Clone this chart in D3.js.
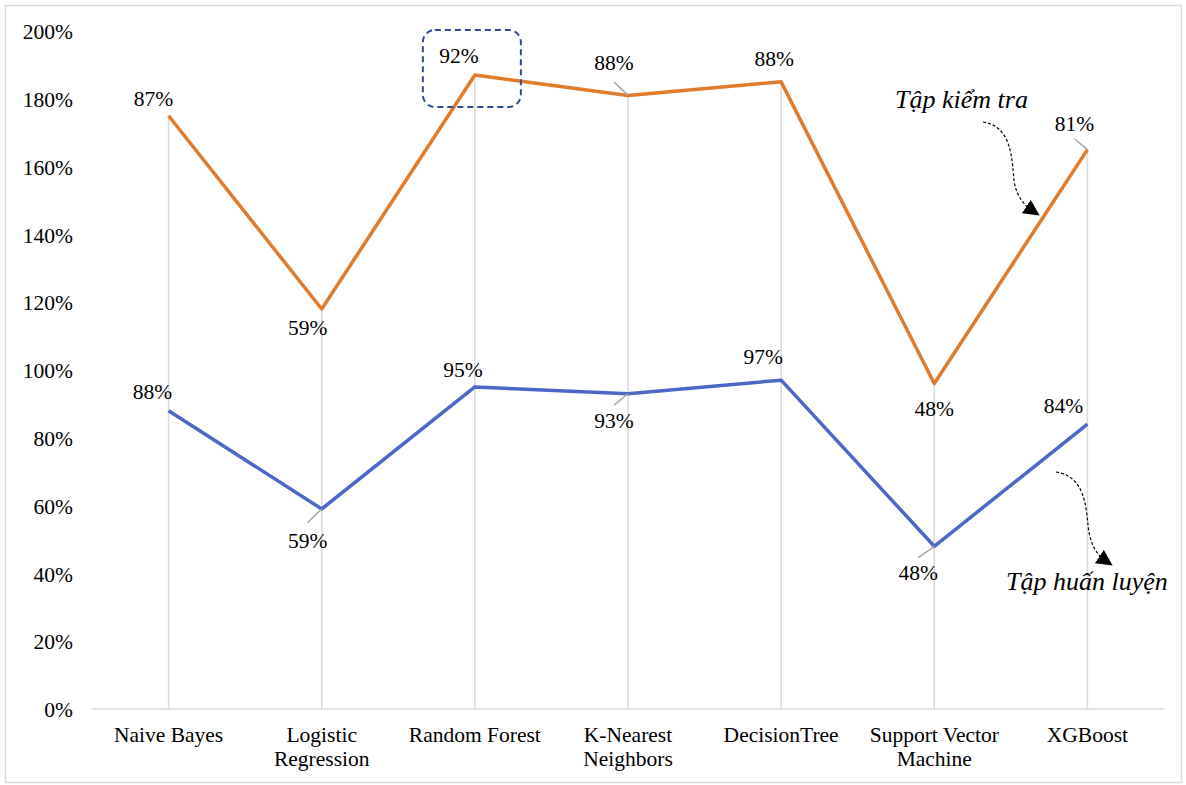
<!DOCTYPE html>
<html>
<head>
<meta charset="utf-8">
<script src="https://cdn.jsdelivr.net/npm/d3@7"></script>
<style>
  html, body { margin: 0; padding: 0; background: #fff; }
  svg { display: block; }
  svg text { font-family: "Liberation Serif", "Times New Roman", serif !important; fill: #000; }
</style>
</head>
<body>
<svg id="chart" width="1186" height="785" font-family="Liberation Serif, serif"></svg>
<script>
// Model names on the category axis (line breaks where the label wraps)
const categories = ["Naive Bayes", "Logistic Regression", "Random Forest", "K-Nearest Neighbors", "DecisionTree", "Support Vector Machine", "XGBoost"];
const categoryLines = [["Naive Bayes"], ["Logistic", "Regression"], ["Random Forest"], ["K-Nearest", "Neighbors"], ["DecisionTree"], ["Support Vector", "Machine"], ["XGBoost"]];
// Accuracy on the training set (bottom series)
const trainValues = [0.88, 0.59, 0.95, 0.93, 0.97, 0.48, 0.84];
// Accuracy on the test set (stacked on top of the training series)
const testValues = [0.87, 0.59, 0.92, 0.88, 0.88, 0.48, 0.81];
const yTicks = [0, 0.2, 0.4, 0.6, 0.8, 1.0, 1.2, 1.4, 1.6, 1.8, 2.0];

// Label placement per point: [dx, dy] offset of label centre from the point, and whether a leader line is drawn
const trainLabelPos = [[-16, -19, false], [-14, 32, true], [-12, -17, false], [-14, 27, true], [-18, -23, false], [-16, 27, true], [-24, -18, false]];
const testLabelPos = [[-15, -17, false], [-14, 19, false], [-16, -19, false], [-14, -32, true], [-7, -23, false], [0, 25, false], [-13, -26, true]];

const FS = "21.5px";
const svg = d3.select("#chart");
const orange = "#E07B2B";
const blue = "#4B68C6";
const grid = "#D9D9D9";

// Outer frame
svg.append("rect").attr("x", 5.5).attr("y", 5.5).attr("width", 1176).attr("height", 777)
  .attr("fill", "#fff").attr("stroke", "#D9D9D9").attr("stroke-width", 1.5);

const plotLeft = 92, plotRight = 1164;
const xb = d3.scaleBand().domain(categories).range([plotLeft, plotRight]);
const x = d => xb(d) + xb.bandwidth() / 2;
const y = d3.scaleLinear().domain([0, 2]).range([709, 31]);

const stacked = testValues.map((v, i) => v + trainValues[i]);

// Y axis tick labels
const yAxis = d3.axisLeft(y).tickValues(yTicks).tickFormat(d3.format(".0%")).tickSize(0).tickPadding(0);
const yg = svg.append("g").attr("transform", "translate(73,0)").call(yAxis)
  .attr("font-family", "Liberation Serif, serif").attr("font-size", FS);
yg.select(".domain").remove();
yg.selectAll("text").attr("fill", "#000").attr("dy", "0.36em");

// Category axis line
svg.append("line").attr("x1", plotLeft).attr("x2", plotRight).attr("y1", y(0)).attr("y2", y(0))
  .attr("stroke", grid).attr("stroke-width", 1.5);

// Drop lines from the top series to the axis
svg.append("g").selectAll("line").data(categories).join("line")
  .attr("x1", d => x(d)).attr("x2", d => x(d))
  .attr("y1", (d, i) => y(stacked[i])).attr("y2", y(0))
  .attr("stroke", grid).attr("stroke-width", 1.5);

// Category labels
const cg = svg.append("g");
categories.forEach((c, i) => {
  const t = cg.append("text").attr("text-anchor", "middle").attr("font-size", FS);
  categoryLines[i].forEach((ln, j) => {
    t.append("tspan").attr("x", x(c)).attr("y", 742 + j * 24).text(ln);
  });
});

const line = d3.line().x((d, i) => x(categories[i])).y(d => y(d));

svg.append("path").datum(trainValues).attr("d", line)
  .attr("fill", "none").attr("stroke", blue).attr("stroke-width", 3.5).attr("stroke-linejoin", "round");
svg.append("path").datum(stacked).attr("d", line)
  .attr("fill", "none").attr("stroke", orange).attr("stroke-width", 3.5).attr("stroke-linejoin", "round");

// Data labels with optional leader lines
function drawLabels(vals, posVals, pos) {
  const g = svg.append("g");
  vals.forEach((v, i) => {
    const px = x(categories[i]), py = y(posVals[i]);
    const [dx, dy, leader] = pos[i];
    if (leader) {
      g.append("line").attr("x1", px).attr("y1", py).attr("x2", px + dx).attr("y2", py + dy * 0.42)
        .attr("stroke", "#A6A6A6").attr("stroke-width", 1.5);
    }
    g.append("text").attr("x", px + dx).attr("y", py + dy + 7)
      .attr("text-anchor", "middle").attr("font-size", FS)
      .text(d3.format(".0%")(v));
  });
}
drawLabels(trainValues, trainValues, trainLabelPos);
drawLabels(testValues, stacked, testLabelPos);

// Highlight box around the best test accuracy
const best = d3.maxIndex(testValues);
svg.append("rect")
  .attr("x", x(categories[best]) - 52).attr("y", 30)
  .attr("width", 98).attr("height", 77).attr("rx", 12)
  .attr("fill", "none").attr("stroke", "#2F4B93").attr("stroke-width", 2)
  .attr("stroke-dasharray", "6,4");

// Arrowhead marker
const defs = svg.append("defs");
defs.append("marker").attr("id", "tri").attr("viewBox", "0 0 10 10")
  .attr("refX", 5).attr("refY", 5).attr("markerWidth", 16).attr("markerHeight", 16)
  .attr("markerUnits", "userSpaceOnUse").attr("orient", "auto")
  .append("path").attr("d", "M0,0 L10,5 L0,10 Z").attr("fill", "#000");

// Series annotations
svg.append("text").attr("x", 895).attr("y", 108).attr("font-size", "26px")
  .attr("font-style", "italic").text("Tập kiểm tra");
svg.append("path").attr("d", "M983,122 C1012,126 1012,160 1014,180 C1016,196 1024,205 1033,211")
  .attr("fill", "none").attr("stroke", "#000").attr("stroke-width", 1.2)
  .attr("stroke-dasharray", "3,2").attr("marker-end", "url(#tri)");

svg.append("text").attr("x", 1006).attr("y", 590).attr("font-size", "26px")
  .attr("font-style", "italic").text("Tập huấn luyện");
svg.append("path").attr("d", "M1056,472 C1084,476 1086,505 1088,525 C1090,545 1097,555 1106,561")
  .attr("fill", "none").attr("stroke", "#000").attr("stroke-width", 1.2)
  .attr("stroke-dasharray", "3,2").attr("marker-end", "url(#tri)");
</script>
</body>
</html>
